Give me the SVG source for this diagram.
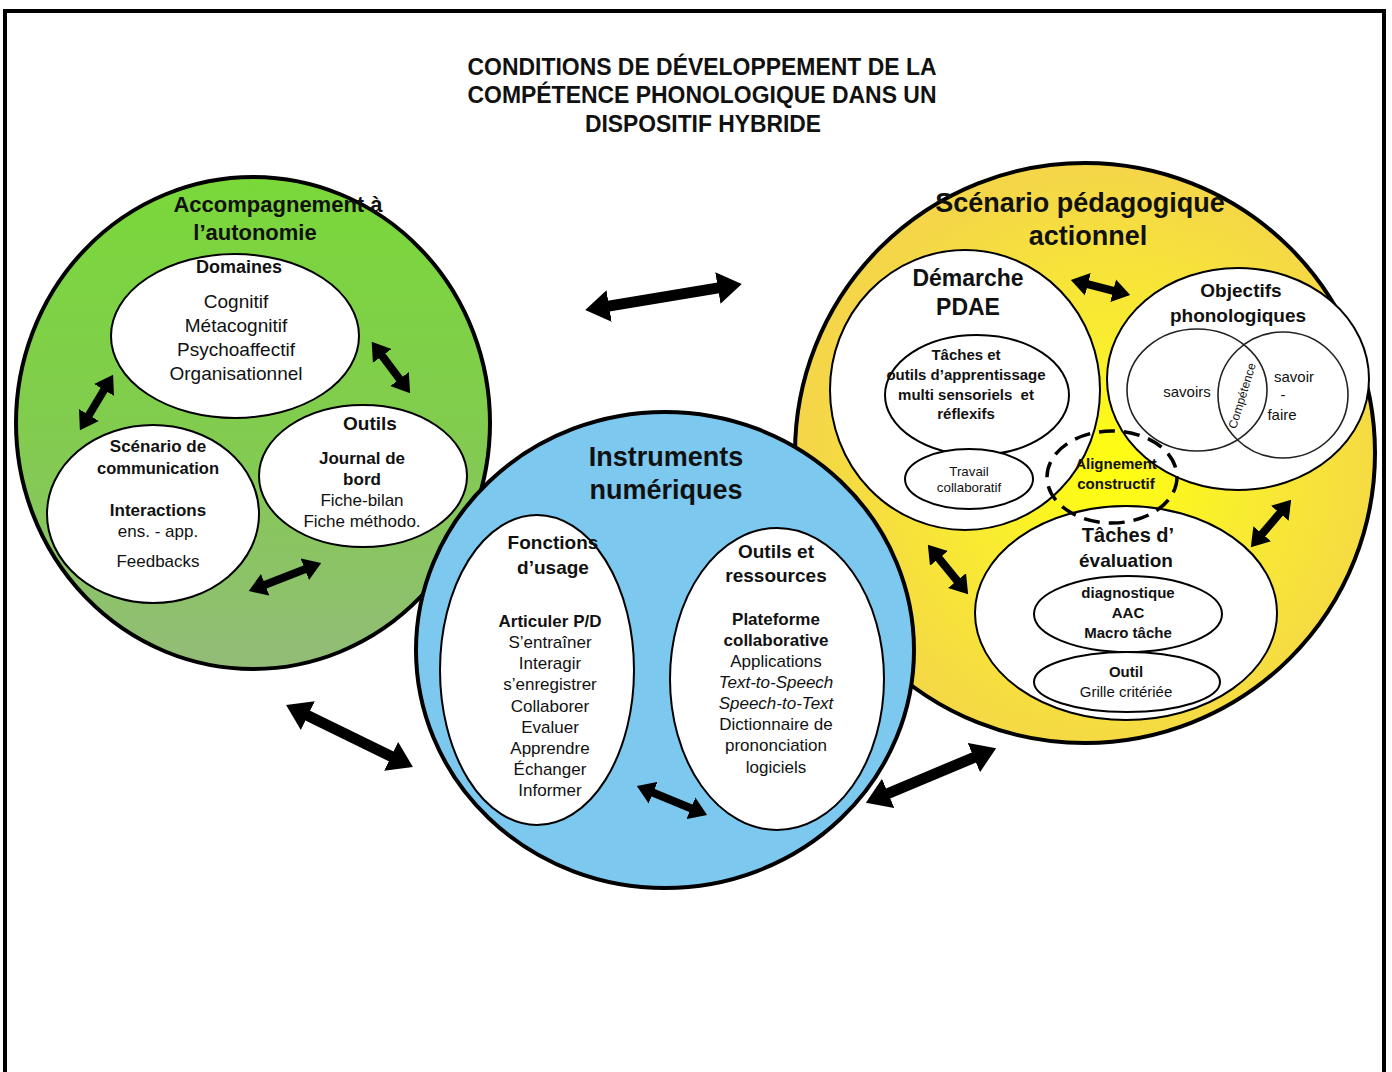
<svg xmlns="http://www.w3.org/2000/svg" width="1392" height="1072" viewBox="0 0 1392 1072">
<defs>
<linearGradient id="gGreen" x1="0" y1="0" x2="0" y2="1">
<stop offset="0" stop-color="#7AD83A"/>
<stop offset="0.55" stop-color="#82CB50"/>
<stop offset="1" stop-color="#93BC78"/>
</linearGradient>
<radialGradient id="gYellow" cx="1110" cy="470" r="300" gradientUnits="userSpaceOnUse">
<stop offset="0" stop-color="#FFFF10"/>
<stop offset="0.45" stop-color="#F9EC30"/>
<stop offset="1" stop-color="#F4D648"/>
</radialGradient>
<marker id="ah" viewBox="0 -1.5 2.2 3" markerWidth="2.2" markerHeight="3" refX="1.3" refY="0" orient="auto-start-reverse">
<path d="M0,-1.45 L2.2,0 L0,1.45 Z" fill="#000"/>
</marker>
</defs>
<style>
text{font-family:"Liberation Sans",Arial,Helvetica,sans-serif;fill:#111;text-anchor:middle}
.b{font-weight:bold}
.it{font-style:italic}
.big{stroke:#000;stroke-width:4}
.in{fill:#fff;stroke:#000;stroke-width:2}
.thin{fill:none;stroke:#222;stroke-width:1.6}
.arr{stroke:#000;fill:none;marker-start:url(#ah);marker-end:url(#ah)}
.a1{stroke-width:11}
.a2{stroke-width:8}
</style>
<rect width="1392" height="1072" fill="#fff"/>
<path d="M5,1072 V11 H1384 V1072" fill="none" stroke="#000" stroke-width="4"/>

<g id="title">
<text class="b" x="702" y="75" font-size="23" textLength="469" lengthAdjust="spacingAndGlyphs">CONDITIONS DE DÉVELOPPEMENT DE LA</text>
<text class="b" x="702" y="103" font-size="23" textLength="469" lengthAdjust="spacingAndGlyphs">COMPÉTENCE PHONOLOGIQUE DANS UN</text>
<text class="b" x="703" y="132" font-size="23" textLength="236" lengthAdjust="spacingAndGlyphs">DISPOSITIF HYBRIDE</text>
</g>

<g id="accompagnement">
<ellipse class="big" cx="253" cy="423" rx="237" ry="246" fill="url(#gGreen)"/>
<text class="b" x="278" y="212" font-size="22" fill="#1a2a10">Accompagnement à</text>
<text class="b" x="255" y="240" font-size="22" fill="#1a2a10">l’autonomie</text>
<g id="domaines">
<ellipse class="in" cx="235" cy="336" rx="124" ry="82"/>
<text class="b" x="239" y="273" font-size="18">Domaines</text>
<text x="236" y="308" font-size="19">Cognitif</text>
<text x="236" y="332" font-size="19">Métacognitif</text>
<text x="236" y="356" font-size="19">Psychoaffectif</text>
<text x="236" y="380" font-size="19">Organisationnel</text>
</g>
<g id="scenario-communication">
<ellipse class="in" cx="153" cy="514" rx="106" ry="89"/>
<text class="b" x="158" y="452" font-size="17">Scénario de</text>
<text class="b" x="158" y="474" font-size="16.5">communication</text>
<text class="b" x="158" y="516" font-size="17">Interactions</text>
<text x="158" y="537" font-size="17">ens. - app.</text>
<text x="158" y="567" font-size="17">Feedbacks</text>
</g>
<g id="outils-autonomie">
<ellipse class="in" cx="363" cy="476" rx="104" ry="71"/>
<text class="b" x="370" y="430" font-size="19">Outils</text>
<text class="b" x="362" y="464" font-size="17">Journal de</text>
<text class="b" x="362" y="485" font-size="17">bord</text>
<text x="362" y="506" font-size="17">Fiche-bilan</text>
<text x="362" y="527" font-size="17">Fiche méthodo.</text>
</g>
</g>

<g id="scenario-pedagogique">
<circle class="big" cx="1085" cy="453" r="290" fill="url(#gYellow)"/>
<text class="b" x="1080" y="212" font-size="27">Scénario pédagogique</text>
<text class="b" x="1088" y="245" font-size="27">actionnel</text>
<g id="demarche">
<ellipse class="in" cx="965" cy="390" rx="135" ry="140"/>
<text class="b" x="968" y="286" font-size="23">Démarche</text>
<text class="b" x="968" y="315" font-size="23">PDAE</text>
<ellipse class="in" cx="977" cy="395" rx="92" ry="60"/>
<text class="b" x="966" y="360" font-size="15">Tâches et</text>
<text class="b" x="966" y="380" font-size="15">outils d’apprentissage</text>
<text class="b" x="966" y="400" font-size="15" xml:space="preserve">multi sensoriels  et</text>
<text class="b" x="966" y="419" font-size="15">réflexifs</text>
<ellipse class="in" cx="969" cy="479" rx="64" ry="30"/>
<text x="969" y="476" font-size="13.3">Travail</text>
<text x="969" y="492" font-size="13.3">collaboratif</text>
</g>
<g id="objectifs">
<ellipse class="in" cx="1238" cy="379" rx="131" ry="111"/>
<text class="b" x="1241" y="297" font-size="19">Objectifs</text>
<text class="b" x="1238" y="322" font-size="19">phonologiques</text>
<ellipse class="thin" cx="1197" cy="390" rx="70" ry="61"/>
<ellipse class="thin" cx="1283" cy="395" rx="65" ry="63"/>
<text x="1187" y="397" font-size="15">savoirs</text>
<text x="1294" y="382" font-size="15">savoir</text>
<text x="1283" y="400" font-size="15">-</text>
<text x="1282" y="420" font-size="15">faire</text>
<text x="0" y="0" font-size="12" transform="translate(1246,397) rotate(-73)">Compétence</text>
</g>
<g id="evaluation">
<ellipse class="in" cx="1126" cy="613" rx="151" ry="107"/>
<text class="b" x="1128" y="542" font-size="20">Tâches d’</text>
<text class="b" x="1126" y="567" font-size="19">évaluation</text>
<ellipse class="in" cx="1128" cy="614" rx="94" ry="38"/>
<text class="b" x="1128" y="598" font-size="15">diagnostique</text>
<text class="b" x="1128" y="618" font-size="15">AAC</text>
<text class="b" x="1128" y="638" font-size="15">Macro tâche</text>
<ellipse class="in" cx="1127" cy="682" rx="93" ry="30"/>
<text class="b" x="1126" y="677" font-size="15">Outil</text>
<text x="1126" y="697" font-size="15">Grille critériée</text>
</g>
<g id="alignement">
<ellipse cx="1112" cy="477" rx="65" ry="46" fill="none" stroke="#000" stroke-width="3.5" stroke-dasharray="16 9"/>
<text class="b" x="1116" y="469" font-size="15">Alignement</text>
<text class="b" x="1116" y="489" font-size="15">constructif</text>
</g>
</g>

<g id="instruments">
<ellipse class="big" cx="665" cy="650" rx="249" ry="238" fill="#7CC8EF"/>
<text class="b" x="666" y="466" font-size="27">Instruments</text>
<text class="b" x="666" y="499" font-size="27">numériques</text>
<g id="fonctions">
<ellipse class="in" cx="537" cy="670" rx="97" ry="155" stroke-width="2.5"/>
<text class="b" x="553" y="549" font-size="19">Fonctions</text>
<text class="b" x="553" y="574" font-size="19">d’usage</text>
<text class="b" x="550" y="627" font-size="17">Articuler P/D</text>
<text x="550" y="648" font-size="17">S’entraîner</text>
<text x="550" y="669" font-size="17">Interagir</text>
<text x="550" y="690" font-size="17">s’enregistrer</text>
<text x="550" y="712" font-size="17">Collaborer</text>
<text x="550" y="733" font-size="17">Evaluer</text>
<text x="550" y="754" font-size="17">Apprendre</text>
<text x="550" y="775" font-size="17">Échanger</text>
<text x="550" y="796" font-size="17">Informer</text>
</g>
<g id="outils-ressources">
<ellipse class="in" cx="777" cy="679" rx="107" ry="151"/>
<text class="b" x="776" y="558" font-size="19">Outils et</text>
<text class="b" x="776" y="582" font-size="19">ressources</text>
<text class="b" x="776" y="625" font-size="17">Plateforme</text>
<text class="b" x="776" y="646" font-size="17">collaborative</text>
<text x="776" y="667" font-size="17">Applications</text>
<text class="it" x="776" y="688" font-size="17">Text-to-Speech</text>
<text class="it" x="776" y="709" font-size="17">Speech-to-Text</text>
<text x="776" y="730" font-size="17">Dictionnaire de</text>
<text x="776" y="751" font-size="17">prononciation</text>
<text x="776" y="773" font-size="17">logiciels</text>
</g>
</g>

<g id="connectors">
<line class="arr a1" x1="595" y1="308.4" x2="732" y2="285.6"/>
<line class="arr a1" x1="295" y1="709.4" x2="404" y2="762.6"/>
<line class="arr a1" x1="875" y1="799" x2="987" y2="752"/>
<line class="arr a2" x1="109.4" y1="381" x2="83.6" y2="424"/>
<line class="arr a2" x1="376" y1="347.6" x2="405.8" y2="387.4"/>
<line class="arr a2" x1="255.5" y1="588.5" x2="314.5" y2="565.5"/>
<line class="arr a2" x1="643.5" y1="788.7" x2="700.5" y2="812.3"/>
<line class="arr a2" x1="1077.8" y1="281.7" x2="1123.2" y2="293.3"/>
<line class="arr a2" x1="1286.5" y1="505.3" x2="1255.5" y2="541.7"/>
<line class="arr a2" x1="932.4" y1="550.4" x2="963.6" y2="588.6"/>
</g>
</svg>
